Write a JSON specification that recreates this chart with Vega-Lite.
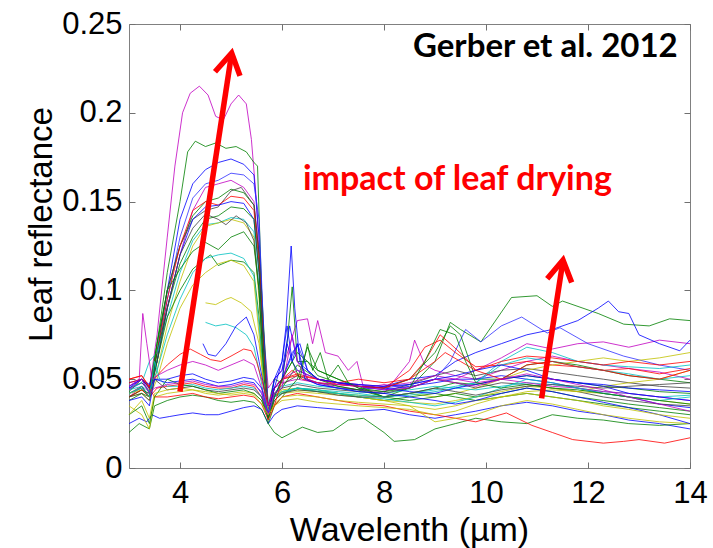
{
"$schema":"https://vega.github.io/schema/vega-lite/v6.json",
"width":561,"height":444,
"autosize":"none",
"padding":{"left":129,"top":24,"right":23,"bottom":80},
"background":"white",
"config":{"view":{"stroke":"#808080","strokeWidth":1},"axis":{"labelFont":"Liberation Sans","titleFont":"Liberation Sans","labelColor":"#000","titleColor":"#000","titleFontWeight":"normal","domain":false,"grid":false,"tickColor":"#707070","tickSize":-6,"tickWidth":1}},
"datasets":{
"spectra":[
{"s":"A","x":3,"y":0.046},{"s":"A","x":3.25,"y":0.05},{"s":"A","x":3.4,"y":0.045},{"s":"A","x":3.55,"y":0.075},{"s":"A","x":3.75,"y":0.13},{"s":"A","x":3.9,"y":0.17},{"s":"A","x":4.05,"y":0.2},{"s":"A","x":4.2,"y":0.211},{"s":"A","x":4.38,"y":0.215},{"s":"A","x":4.55,"y":0.21},{"s":"A","x":4.7,"y":0.198},{"s":"A","x":4.85,"y":0.196},{"s":"A","x":5,"y":0.205},{"s":"A","x":5.15,"y":0.21},{"s":"A","x":5.3,"y":0.205},{"s":"A","x":5.4,"y":0.185},{"s":"A","x":5.5,"y":0.15},{"s":"A","x":5.6,"y":0.09},{"s":"A","x":5.73,"y":0.045},{"s":"A","x":5.85,"y":0.05},{"s":"A","x":6,"y":0.055},{"s":"A","x":6.3,"y":0.083},{"s":"A","x":6.5,"y":0.084},{"s":"A","x":6.6,"y":0.07},{"s":"A","x":6.7,"y":0.083},{"s":"A","x":6.85,"y":0.065},{"s":"A","x":7.1,"y":0.063},{"s":"A","x":7.3,"y":0.055},{"s":"A","x":7.47,"y":0.06},{"s":"A","x":7.6,"y":0.045},{"s":"A","x":8,"y":0.047},{"s":"A","x":8.5,"y":0.045},{"s":"A","x":9,"y":0.05},{"s":"A","x":9.4,"y":0.05},{"s":"A","x":9.8,"y":0.055},{"s":"A","x":10.3,"y":0.062},{"s":"A","x":10.8,"y":0.07},{"s":"A","x":11.3,"y":0.067},{"s":"A","x":11.8,"y":0.07},{"s":"A","x":12.3,"y":0.071},{"s":"A","x":12.8,"y":0.068},{"s":"A","x":13.4,"y":0.072},{"s":"A","x":14,"y":0.07},
{"s":"B","x":3,"y":0.042},{"s":"B","x":3.25,"y":0.045},{"s":"B","x":3.4,"y":0.04},{"s":"B","x":3.55,"y":0.07},{"s":"B","x":3.75,"y":0.11},{"s":"B","x":4,"y":0.15},{"s":"B","x":4.15,"y":0.178},{"s":"B","x":4.3,"y":0.184},{"s":"B","x":4.5,"y":0.181},{"s":"B","x":4.7,"y":0.183},{"s":"B","x":4.9,"y":0.18},{"s":"B","x":5.1,"y":0.181},{"s":"B","x":5.3,"y":0.178},{"s":"B","x":5.45,"y":0.172},{"s":"B","x":5.52,"y":0.17},{"s":"B","x":5.6,"y":0.1},{"s":"B","x":5.73,"y":0.035},{"s":"B","x":5.85,"y":0.05},{"s":"B","x":6,"y":0.048},{"s":"B","x":6.1,"y":0.07},{"s":"B","x":6.2,"y":0.102},{"s":"B","x":6.3,"y":0.06},{"s":"B","x":6.5,"y":0.06},{"s":"B","x":6.7,"y":0.055},{"s":"B","x":7.1,"y":0.05},{"s":"B","x":7.5,"y":0.045},{"s":"B","x":8,"y":0.04},{"s":"B","x":8.5,"y":0.045},{"s":"B","x":9,"y":0.06},{"s":"B","x":9.3,"y":0.082},{"s":"B","x":9.5,"y":0.078},{"s":"B","x":9.9,"y":0.071},{"s":"B","x":10.5,"y":0.096},{"s":"B","x":11,"y":0.097},{"s":"B","x":11.3,"y":0.091},{"s":"B","x":11.5,"y":0.094},{"s":"B","x":12.2,"y":0.087},{"s":"B","x":12.7,"y":0.081},{"s":"B","x":13.2,"y":0.08},{"s":"B","x":13.6,"y":0.084},{"s":"B","x":14,"y":0.083},
{"s":"C","x":3,"y":0.048},{"s":"C","x":3.25,"y":0.05},{"s":"C","x":3.4,"y":0.042},{"s":"C","x":3.55,"y":0.065},{"s":"C","x":3.75,"y":0.1},{"s":"C","x":4,"y":0.14},{"s":"C","x":4.25,"y":0.16},{"s":"C","x":4.5,"y":0.168},{"s":"C","x":4.75,"y":0.172},{"s":"C","x":5,"y":0.174},{"s":"C","x":5.25,"y":0.171},{"s":"C","x":5.45,"y":0.165},{"s":"C","x":5.55,"y":0.13},{"s":"C","x":5.65,"y":0.07},{"s":"C","x":5.73,"y":0.03},{"s":"C","x":5.85,"y":0.05},{"s":"C","x":6,"y":0.06},{"s":"C","x":6.08,"y":0.08},{"s":"C","x":6.18,"y":0.125},{"s":"C","x":6.25,"y":0.09},{"s":"C","x":6.35,"y":0.06},{"s":"C","x":6.5,"y":0.05},{"s":"C","x":6.7,"y":0.047},{"s":"C","x":7.1,"y":0.045},{"s":"C","x":7.5,"y":0.044},{"s":"C","x":8,"y":0.046},{"s":"C","x":8.5,"y":0.05},{"s":"C","x":9,"y":0.052},{"s":"C","x":9.4,"y":0.06},{"s":"C","x":9.8,"y":0.065},{"s":"C","x":10.3,"y":0.07},{"s":"C","x":10.8,"y":0.075},{"s":"C","x":11.3,"y":0.078},{"s":"C","x":11.8,"y":0.083},{"s":"C","x":12.2,"y":0.09},{"s":"C","x":12.4,"y":0.094},{"s":"C","x":12.6,"y":0.088},{"s":"C","x":12.8,"y":0.087},{"s":"C","x":13,"y":0.075},{"s":"C","x":13.4,"y":0.07},{"s":"C","x":13.8,"y":0.066},{"s":"C","x":14,"y":0.072},
{"s":"D","x":3,"y":0.044},{"s":"D","x":3.25,"y":0.048},{"s":"D","x":3.4,"y":0.043},{"s":"D","x":3.55,"y":0.06},{"s":"D","x":3.75,"y":0.095},{"s":"D","x":4,"y":0.13},{"s":"D","x":4.25,"y":0.152},{"s":"D","x":4.5,"y":0.16},{"s":"D","x":4.75,"y":0.162},{"s":"D","x":5,"y":0.166},{"s":"D","x":5.25,"y":0.165},{"s":"D","x":5.45,"y":0.16},{"s":"D","x":5.55,"y":0.14},{"s":"D","x":5.65,"y":0.07},{"s":"D","x":5.73,"y":0.035},{"s":"D","x":5.85,"y":0.045},{"s":"D","x":6,"y":0.05},{"s":"D","x":6.3,"y":0.07},{"s":"D","x":6.5,"y":0.055},{"s":"D","x":6.7,"y":0.05},{"s":"D","x":7.1,"y":0.048},{"s":"D","x":7.5,"y":0.047},{"s":"D","x":8,"y":0.045},{"s":"D","x":8.5,"y":0.047},{"s":"D","x":9,"y":0.05},{"s":"D","x":9.3,"y":0.06},{"s":"D","x":9.6,"y":0.078},{"s":"D","x":9.9,"y":0.071},{"s":"D","x":10.3,"y":0.08},{"s":"D","x":10.7,"y":0.085},{"s":"D","x":11.2,"y":0.076},{"s":"D","x":11.45,"y":0.079},{"s":"D","x":12,"y":0.07},{"s":"D","x":12.7,"y":0.063},{"s":"D","x":13.4,"y":0.058},{"s":"D","x":14,"y":0.055},
{"s":"E","x":3,"y":0.04},{"s":"E","x":3.25,"y":0.046},{"s":"E","x":3.4,"y":0.04},{"s":"E","x":3.55,"y":0.06},{"s":"E","x":3.75,"y":0.09},{"s":"E","x":4,"y":0.12},{"s":"E","x":4.25,"y":0.145},{"s":"E","x":4.5,"y":0.158},{"s":"E","x":4.75,"y":0.16},{"s":"E","x":5,"y":0.162},{"s":"E","x":5.25,"y":0.158},{"s":"E","x":5.45,"y":0.15},{"s":"E","x":5.55,"y":0.12},{"s":"E","x":5.65,"y":0.06},{"s":"E","x":5.73,"y":0.032},{"s":"E","x":5.85,"y":0.045},{"s":"E","x":6,"y":0.048},{"s":"E","x":6.3,"y":0.05},{"s":"E","x":6.7,"y":0.048},{"s":"E","x":7.1,"y":0.045},{"s":"E","x":7.5,"y":0.044},{"s":"E","x":8,"y":0.042},{"s":"E","x":8.5,"y":0.06},{"s":"E","x":8.6,"y":0.072},{"s":"E","x":8.8,"y":0.058},{"s":"E","x":9,"y":0.055},{"s":"E","x":9.4,"y":0.052},{"s":"E","x":9.8,"y":0.05},{"s":"E","x":10.3,"y":0.055},{"s":"E","x":10.8,"y":0.06},{"s":"E","x":11.3,"y":0.063},{"s":"E","x":11.8,"y":0.06},{"s":"E","x":12.3,"y":0.058},{"s":"E","x":12.8,"y":0.056},{"s":"E","x":13.4,"y":0.054},{"s":"E","x":14,"y":0.05},
{"s":"F","x":3,"y":0.043},{"s":"F","x":3.25,"y":0.05},{"s":"F","x":3.4,"y":0.045},{"s":"F","x":3.55,"y":0.07},{"s":"F","x":3.75,"y":0.1},{"s":"F","x":4,"y":0.125},{"s":"F","x":4.25,"y":0.142},{"s":"F","x":4.5,"y":0.15},{"s":"F","x":4.75,"y":0.152},{"s":"F","x":5,"y":0.157},{"s":"F","x":5.25,"y":0.155},{"s":"F","x":5.45,"y":0.148},{"s":"F","x":5.55,"y":0.12},{"s":"F","x":5.65,"y":0.065},{"s":"F","x":5.73,"y":0.03},{"s":"F","x":5.85,"y":0.045},{"s":"F","x":6,"y":0.05},{"s":"F","x":6.3,"y":0.065},{"s":"F","x":6.5,"y":0.06},{"s":"F","x":6.7,"y":0.052},{"s":"F","x":7.1,"y":0.048},{"s":"F","x":7.5,"y":0.046},{"s":"F","x":8,"y":0.045},{"s":"F","x":8.5,"y":0.05},{"s":"F","x":9,"y":0.065},{"s":"F","x":9.3,"y":0.08},{"s":"F","x":9.5,"y":0.075},{"s":"F","x":9.8,"y":0.05},{"s":"F","x":10.3,"y":0.05},{"s":"F","x":10.8,"y":0.058},{"s":"F","x":11.3,"y":0.06},{"s":"F","x":11.8,"y":0.058},{"s":"F","x":12.3,"y":0.055},{"s":"F","x":12.8,"y":0.052},{"s":"F","x":13.4,"y":0.05},{"s":"F","x":14,"y":0.048},
{"s":"G","x":3,"y":0.045},{"s":"G","x":3.25,"y":0.048},{"s":"G","x":3.4,"y":0.044},{"s":"G","x":3.55,"y":0.065},{"s":"G","x":3.75,"y":0.1},{"s":"G","x":4,"y":0.125},{"s":"G","x":4.25,"y":0.14},{"s":"G","x":4.5,"y":0.145},{"s":"G","x":4.75,"y":0.147},{"s":"G","x":5,"y":0.156},{"s":"G","x":5.2,"y":0.158},{"s":"G","x":5.45,"y":0.148},{"s":"G","x":5.55,"y":0.12},{"s":"G","x":5.65,"y":0.06},{"s":"G","x":5.73,"y":0.03},{"s":"G","x":5.85,"y":0.042},{"s":"G","x":6,"y":0.047},{"s":"G","x":6.3,"y":0.052},{"s":"G","x":6.7,"y":0.048},{"s":"G","x":7.1,"y":0.046},{"s":"G","x":7.5,"y":0.044},{"s":"G","x":8,"y":0.043},{"s":"G","x":8.5,"y":0.047},{"s":"G","x":9,"y":0.052},{"s":"G","x":9.4,"y":0.055},{"s":"G","x":9.8,"y":0.052},{"s":"G","x":10.3,"y":0.055},{"s":"G","x":10.8,"y":0.056},{"s":"G","x":11.3,"y":0.054},{"s":"G","x":11.8,"y":0.052},{"s":"G","x":12.3,"y":0.05},{"s":"G","x":12.8,"y":0.048},{"s":"G","x":13.4,"y":0.046},{"s":"G","x":14,"y":0.045},
{"s":"H","x":3,"y":0.05},{"s":"H","x":3.25,"y":0.052},{"s":"H","x":3.4,"y":0.046},{"s":"H","x":3.55,"y":0.065},{"s":"H","x":3.75,"y":0.095},{"s":"H","x":4,"y":0.125},{"s":"H","x":4.25,"y":0.145},{"s":"H","x":4.5,"y":0.15},{"s":"H","x":4.75,"y":0.148},{"s":"H","x":5,"y":0.153},{"s":"H","x":5.25,"y":0.152},{"s":"H","x":5.45,"y":0.145},{"s":"H","x":5.55,"y":0.115},{"s":"H","x":5.65,"y":0.06},{"s":"H","x":5.73,"y":0.032},{"s":"H","x":5.85,"y":0.045},{"s":"H","x":6,"y":0.05},{"s":"H","x":6.3,"y":0.052},{"s":"H","x":6.7,"y":0.05},{"s":"H","x":7.1,"y":0.047},{"s":"H","x":7.5,"y":0.046},{"s":"H","x":8,"y":0.045},{"s":"H","x":8.5,"y":0.055},{"s":"H","x":8.8,"y":0.068},{"s":"H","x":9.1,"y":0.072},{"s":"H","x":9.4,"y":0.065},{"s":"H","x":9.8,"y":0.057},{"s":"H","x":10.3,"y":0.058},{"s":"H","x":10.8,"y":0.06},{"s":"H","x":11.3,"y":0.058},{"s":"H","x":11.8,"y":0.057},{"s":"H","x":12.3,"y":0.055},{"s":"H","x":12.8,"y":0.056},{"s":"H","x":13.4,"y":0.053},{"s":"H","x":14,"y":0.056},
{"s":"I","x":3,"y":0.046},{"s":"I","x":3.25,"y":0.05},{"s":"I","x":3.4,"y":0.047},{"s":"I","x":3.55,"y":0.06},{"s":"I","x":3.75,"y":0.09},{"s":"I","x":4,"y":0.12},{"s":"I","x":4.25,"y":0.14},{"s":"I","x":4.5,"y":0.147},{"s":"I","x":4.75,"y":0.148},{"s":"I","x":5,"y":0.15},{"s":"I","x":5.25,"y":0.149},{"s":"I","x":5.45,"y":0.14},{"s":"I","x":5.55,"y":0.11},{"s":"I","x":5.65,"y":0.055},{"s":"I","x":5.73,"y":0.03},{"s":"I","x":5.85,"y":0.05},{"s":"I","x":6,"y":0.055},{"s":"I","x":6.15,"y":0.08},{"s":"I","x":6.3,"y":0.06},{"s":"I","x":6.7,"y":0.05},{"s":"I","x":7.1,"y":0.048},{"s":"I","x":7.5,"y":0.046},{"s":"I","x":8,"y":0.044},{"s":"I","x":8.5,"y":0.046},{"s":"I","x":9,"y":0.048},{"s":"I","x":9.4,"y":0.05},{"s":"I","x":9.8,"y":0.05},{"s":"I","x":10.3,"y":0.052},{"s":"I","x":10.8,"y":0.05},{"s":"I","x":11.3,"y":0.048},{"s":"I","x":11.8,"y":0.045},{"s":"I","x":12.3,"y":0.042},{"s":"I","x":12.8,"y":0.04},{"s":"I","x":13.4,"y":0.036},{"s":"I","x":14,"y":0.034},
{"s":"J","x":3,"y":0.04},{"s":"J","x":3.25,"y":0.044},{"s":"J","x":3.4,"y":0.04},{"s":"J","x":3.55,"y":0.065},{"s":"J","x":3.75,"y":0.09},{"s":"J","x":4,"y":0.115},{"s":"J","x":4.25,"y":0.13},{"s":"J","x":4.5,"y":0.14},{"s":"J","x":4.75,"y":0.142},{"s":"J","x":5,"y":0.147},{"s":"J","x":5.25,"y":0.146},{"s":"J","x":5.45,"y":0.14},{"s":"J","x":5.55,"y":0.11},{"s":"J","x":5.65,"y":0.055},{"s":"J","x":5.73,"y":0.028},{"s":"J","x":5.85,"y":0.04},{"s":"J","x":6,"y":0.045},{"s":"J","x":6.3,"y":0.058},{"s":"J","x":6.7,"y":0.05},{"s":"J","x":7.1,"y":0.046},{"s":"J","x":7.5,"y":0.044},{"s":"J","x":8,"y":0.04},{"s":"J","x":8.5,"y":0.042},{"s":"J","x":9,"y":0.045},{"s":"J","x":9.4,"y":0.048},{"s":"J","x":9.8,"y":0.047},{"s":"J","x":10.3,"y":0.05},{"s":"J","x":10.8,"y":0.052},{"s":"J","x":11.3,"y":0.05},{"s":"J","x":11.8,"y":0.048},{"s":"J","x":12.3,"y":0.046},{"s":"J","x":12.8,"y":0.045},{"s":"J","x":13.4,"y":0.043},{"s":"J","x":14,"y":0.042},
{"s":"K","x":3,"y":0.045},{"s":"K","x":3.25,"y":0.048},{"s":"K","x":3.4,"y":0.06},{"s":"K","x":3.55,"y":0.065},{"s":"K","x":3.75,"y":0.085},{"s":"K","x":4,"y":0.11},{"s":"K","x":4.25,"y":0.128},{"s":"K","x":4.5,"y":0.137},{"s":"K","x":4.75,"y":0.138},{"s":"K","x":5,"y":0.141},{"s":"K","x":5.25,"y":0.14},{"s":"K","x":5.45,"y":0.133},{"s":"K","x":5.55,"y":0.1},{"s":"K","x":5.65,"y":0.05},{"s":"K","x":5.73,"y":0.03},{"s":"K","x":5.85,"y":0.042},{"s":"K","x":6,"y":0.046},{"s":"K","x":6.3,"y":0.048},{"s":"K","x":6.7,"y":0.046},{"s":"K","x":7.1,"y":0.045},{"s":"K","x":7.5,"y":0.043},{"s":"K","x":8,"y":0.042},{"s":"K","x":8.5,"y":0.044},{"s":"K","x":9,"y":0.046},{"s":"K","x":9.4,"y":0.045},{"s":"K","x":9.8,"y":0.048},{"s":"K","x":10.3,"y":0.06},{"s":"K","x":10.8,"y":0.068},{"s":"K","x":11.3,"y":0.065},{"s":"K","x":11.8,"y":0.06},{"s":"K","x":12.3,"y":0.058},{"s":"K","x":12.8,"y":0.057},{"s":"K","x":13.4,"y":0.056},{"s":"K","x":14,"y":0.058},
{"s":"L","x":3,"y":0.04},{"s":"L","x":3.25,"y":0.042},{"s":"L","x":3.4,"y":0.038},{"s":"L","x":3.55,"y":0.055},{"s":"L","x":3.75,"y":0.08},{"s":"L","x":4,"y":0.105},{"s":"L","x":4.25,"y":0.125},{"s":"L","x":4.5,"y":0.136},{"s":"L","x":4.75,"y":0.138},{"s":"L","x":5,"y":0.14},{"s":"L","x":5.25,"y":0.138},{"s":"L","x":5.45,"y":0.13},{"s":"L","x":5.55,"y":0.095},{"s":"L","x":5.65,"y":0.05},{"s":"L","x":5.73,"y":0.03},{"s":"L","x":5.85,"y":0.04},{"s":"L","x":6,"y":0.044},{"s":"L","x":6.3,"y":0.045},{"s":"L","x":6.7,"y":0.044},{"s":"L","x":7.1,"y":0.042},{"s":"L","x":7.5,"y":0.041},{"s":"L","x":8,"y":0.04},{"s":"L","x":8.5,"y":0.042},{"s":"L","x":9,"y":0.04},{"s":"L","x":9.4,"y":0.042},{"s":"L","x":9.8,"y":0.045},{"s":"L","x":10.3,"y":0.05},{"s":"L","x":10.8,"y":0.055},{"s":"L","x":11.3,"y":0.058},{"s":"L","x":11.8,"y":0.06},{"s":"L","x":12.3,"y":0.062},{"s":"L","x":12.8,"y":0.06},{"s":"L","x":13.4,"y":0.062},{"s":"L","x":14,"y":0.065},
{"s":"M","x":3,"y":0.042},{"s":"M","x":3.25,"y":0.046},{"s":"M","x":3.4,"y":0.04},{"s":"M","x":3.55,"y":0.06},{"s":"M","x":3.75,"y":0.09},{"s":"M","x":4,"y":0.12},{"s":"M","x":4.25,"y":0.135},{"s":"M","x":4.5,"y":0.143},{"s":"M","x":4.75,"y":0.14},{"s":"M","x":4.9,"y":0.137},{"s":"M","x":5.1,"y":0.142},{"s":"M","x":5.3,"y":0.138},{"s":"M","x":5.45,"y":0.128},{"s":"M","x":5.55,"y":0.1},{"s":"M","x":5.65,"y":0.05},{"s":"M","x":5.73,"y":0.03},{"s":"M","x":5.85,"y":0.042},{"s":"M","x":6,"y":0.045},{"s":"M","x":6.3,"y":0.047},{"s":"M","x":6.7,"y":0.045},{"s":"M","x":7.1,"y":0.044},{"s":"M","x":7.5,"y":0.043},{"s":"M","x":8,"y":0.042},{"s":"M","x":8.5,"y":0.045},{"s":"M","x":9,"y":0.05},{"s":"M","x":9.4,"y":0.048},{"s":"M","x":9.8,"y":0.045},{"s":"M","x":10.3,"y":0.048},{"s":"M","x":10.8,"y":0.047},{"s":"M","x":11.3,"y":0.045},{"s":"M","x":11.8,"y":0.043},{"s":"M","x":12.3,"y":0.04},{"s":"M","x":12.8,"y":0.038},{"s":"M","x":13.4,"y":0.036},{"s":"M","x":14,"y":0.035},
{"s":"N","x":3,"y":0.038},{"s":"N","x":3.25,"y":0.042},{"s":"N","x":3.4,"y":0.04},{"s":"N","x":3.55,"y":0.07},{"s":"N","x":3.75,"y":0.1},{"s":"N","x":4,"y":0.112},{"s":"N","x":4.25,"y":0.122},{"s":"N","x":4.5,"y":0.127},{"s":"N","x":4.75,"y":0.123},{"s":"N","x":5,"y":0.13},{"s":"N","x":5.25,"y":0.133},{"s":"N","x":5.45,"y":0.125},{"s":"N","x":5.55,"y":0.1},{"s":"N","x":5.65,"y":0.05},{"s":"N","x":5.73,"y":0.025},{"s":"N","x":5.85,"y":0.035},{"s":"N","x":6,"y":0.04},{"s":"N","x":6.3,"y":0.05},{"s":"N","x":6.5,"y":0.068},{"s":"N","x":6.7,"y":0.055},{"s":"N","x":7.1,"y":0.05},{"s":"N","x":7.5,"y":0.046},{"s":"N","x":8,"y":0.04},{"s":"N","x":8.5,"y":0.038},{"s":"N","x":9,"y":0.04},{"s":"N","x":9.4,"y":0.042},{"s":"N","x":9.8,"y":0.04},{"s":"N","x":10.3,"y":0.042},{"s":"N","x":10.8,"y":0.045},{"s":"N","x":11.3,"y":0.043},{"s":"N","x":11.8,"y":0.04},{"s":"N","x":12.3,"y":0.038},{"s":"N","x":12.8,"y":0.036},{"s":"N","x":13.4,"y":0.034},{"s":"N","x":14,"y":0.032},
{"s":"O","x":3,"y":0.04},{"s":"O","x":3.25,"y":0.044},{"s":"O","x":3.4,"y":0.042},{"s":"O","x":3.55,"y":0.06},{"s":"O","x":3.75,"y":0.085},{"s":"O","x":4,"y":0.1},{"s":"O","x":4.25,"y":0.112},{"s":"O","x":4.5,"y":0.118},{"s":"O","x":4.6,"y":0.12},{"s":"O","x":4.75,"y":0.114},{"s":"O","x":5,"y":0.117},{"s":"O","x":5.25,"y":0.116},{"s":"O","x":5.45,"y":0.11},{"s":"O","x":5.55,"y":0.085},{"s":"O","x":5.65,"y":0.045},{"s":"O","x":5.73,"y":0.028},{"s":"O","x":5.85,"y":0.038},{"s":"O","x":6,"y":0.042},{"s":"O","x":6.3,"y":0.045},{"s":"O","x":6.7,"y":0.043},{"s":"O","x":7.1,"y":0.042},{"s":"O","x":7.5,"y":0.04},{"s":"O","x":8,"y":0.038},{"s":"O","x":8.5,"y":0.04},{"s":"O","x":9,"y":0.042},{"s":"O","x":9.4,"y":0.04},{"s":"O","x":9.8,"y":0.038},{"s":"O","x":10.3,"y":0.04},{"s":"O","x":10.8,"y":0.042},{"s":"O","x":11.3,"y":0.04},{"s":"O","x":11.8,"y":0.038},{"s":"O","x":12.3,"y":0.036},{"s":"O","x":12.8,"y":0.034},{"s":"O","x":13.4,"y":0.032},{"s":"O","x":14,"y":0.03},
{"s":"P","x":3,"y":0.044},{"s":"P","x":3.25,"y":0.046},{"s":"P","x":3.4,"y":0.043},{"s":"P","x":3.55,"y":0.055},{"s":"P","x":3.75,"y":0.075},{"s":"P","x":4,"y":0.095},{"s":"P","x":4.25,"y":0.11},{"s":"P","x":4.5,"y":0.118},{"s":"P","x":4.75,"y":0.12},{"s":"P","x":5,"y":0.121},{"s":"P","x":5.25,"y":0.118},{"s":"P","x":5.45,"y":0.108},{"s":"P","x":5.55,"y":0.08},{"s":"P","x":5.65,"y":0.045},{"s":"P","x":5.73,"y":0.03},{"s":"P","x":5.85,"y":0.04},{"s":"P","x":6,"y":0.043},{"s":"P","x":6.3,"y":0.045},{"s":"P","x":6.7,"y":0.044},{"s":"P","x":7.1,"y":0.043},{"s":"P","x":7.5,"y":0.042},{"s":"P","x":8,"y":0.04},{"s":"P","x":8.5,"y":0.041},{"s":"P","x":9,"y":0.043},{"s":"P","x":9.4,"y":0.045},{"s":"P","x":9.8,"y":0.044},{"s":"P","x":10.3,"y":0.046},{"s":"P","x":10.8,"y":0.048},{"s":"P","x":11.3,"y":0.047},{"s":"P","x":11.8,"y":0.045},{"s":"P","x":12.3,"y":0.043},{"s":"P","x":12.8,"y":0.042},{"s":"P","x":13.4,"y":0.04},{"s":"P","x":14,"y":0.041},
{"s":"Q","x":3,"y":0.042},{"s":"Q","x":3.25,"y":0.044},{"s":"Q","x":3.4,"y":0.04},{"s":"Q","x":3.55,"y":0.05},{"s":"Q","x":3.75,"y":0.07},{"s":"Q","x":4,"y":0.09},{"s":"Q","x":4.25,"y":0.103},{"s":"Q","x":4.5,"y":0.11},{"s":"Q","x":4.75,"y":0.115},{"s":"Q","x":5,"y":0.117},{"s":"Q","x":5.25,"y":0.114},{"s":"Q","x":5.45,"y":0.105},{"s":"Q","x":5.55,"y":0.075},{"s":"Q","x":5.65,"y":0.045},{"s":"Q","x":5.73,"y":0.032},{"s":"Q","x":5.85,"y":0.04},{"s":"Q","x":6,"y":0.042},{"s":"Q","x":6.3,"y":0.043},{"s":"Q","x":6.7,"y":0.042},{"s":"Q","x":7.1,"y":0.041},{"s":"Q","x":7.5,"y":0.04},{"s":"Q","x":8,"y":0.038},{"s":"Q","x":8.5,"y":0.037},{"s":"Q","x":9,"y":0.036},{"s":"Q","x":9.4,"y":0.038},{"s":"Q","x":9.8,"y":0.04},{"s":"Q","x":10.3,"y":0.043},{"s":"Q","x":10.8,"y":0.046},{"s":"Q","x":11.3,"y":0.045},{"s":"Q","x":11.8,"y":0.043},{"s":"Q","x":12.3,"y":0.042},{"s":"Q","x":12.8,"y":0.04},{"s":"Q","x":13.4,"y":0.038},{"s":"Q","x":14,"y":0.036},
{"s":"R","x":4.5,"y":0.093},{"s":"R","x":4.7,"y":0.092},{"s":"R","x":4.9,"y":0.095},{"s":"R","x":5,"y":0.096},{"s":"R","x":5.2,"y":0.093},{"s":"R","x":5.4,"y":0.088},{"s":"R","x":5.55,"y":0.07},{"s":"R","x":5.65,"y":0.045},{"s":"R","x":5.73,"y":0.035},{"s":"R","x":5.85,"y":0.04},{"s":"R","x":6,"y":0.043},{"s":"R","x":6.3,"y":0.044},{"s":"R","x":6.7,"y":0.043},{"s":"R","x":7.1,"y":0.042},{"s":"R","x":7.5,"y":0.04},{"s":"R","x":8,"y":0.038},{"s":"R","x":8.5,"y":0.035},{"s":"R","x":9,"y":0.033},{"s":"R","x":9.4,"y":0.035},{"s":"R","x":9.8,"y":0.038},{"s":"R","x":10.3,"y":0.04},{"s":"R","x":10.8,"y":0.043},{"s":"R","x":11.3,"y":0.044},{"s":"R","x":11.8,"y":0.043},{"s":"R","x":12.3,"y":0.046},{"s":"R","x":12.8,"y":0.048},{"s":"R","x":13.4,"y":0.05},{"s":"R","x":14,"y":0.055},
{"s":"S","x":4.5,"y":0.082},{"s":"S","x":4.7,"y":0.08},{"s":"S","x":4.9,"y":0.081},{"s":"S","x":5.1,"y":0.079},{"s":"S","x":5.3,"y":0.075},{"s":"S","x":5.45,"y":0.068},{"s":"S","x":5.55,"y":0.055},{"s":"S","x":5.65,"y":0.04},{"s":"S","x":5.73,"y":0.032},{"s":"S","x":5.85,"y":0.04},{"s":"S","x":6,"y":0.042},{"s":"S","x":6.3,"y":0.045},{"s":"S","x":6.7,"y":0.043},{"s":"S","x":7.1,"y":0.042},{"s":"S","x":7.5,"y":0.041},{"s":"S","x":8,"y":0.04},{"s":"S","x":8.5,"y":0.042},{"s":"S","x":9,"y":0.044},{"s":"S","x":9.4,"y":0.046},{"s":"S","x":9.8,"y":0.048},{"s":"S","x":10.3,"y":0.058},{"s":"S","x":10.8,"y":0.062},{"s":"S","x":11.3,"y":0.06},{"s":"S","x":11.8,"y":0.057},{"s":"S","x":12.3,"y":0.055},{"s":"S","x":12.8,"y":0.053},{"s":"S","x":13.4,"y":0.05},{"s":"S","x":14,"y":0.052},
{"s":"T","x":4.45,"y":0.07},{"s":"T","x":4.55,"y":0.064},{"s":"T","x":4.7,"y":0.063},{"s":"T","x":4.9,"y":0.07},{"s":"T","x":5.1,"y":0.08},{"s":"T","x":5.3,"y":0.085},{"s":"T","x":5.45,"y":0.075},{"s":"T","x":5.55,"y":0.06},{"s":"T","x":5.65,"y":0.045},{"s":"T","x":5.73,"y":0.035},{"s":"T","x":5.85,"y":0.045},{"s":"T","x":6,"y":0.05},{"s":"T","x":6.1,"y":0.07},{"s":"T","x":6.2,"y":0.06},{"s":"T","x":6.3,"y":0.055},{"s":"T","x":6.7,"y":0.05},{"s":"T","x":7.1,"y":0.048},{"s":"T","x":7.5,"y":0.046},{"s":"T","x":8,"y":0.045},{"s":"T","x":8.5,"y":0.043},{"s":"T","x":9,"y":0.042},{"s":"T","x":9.4,"y":0.045},{"s":"T","x":9.8,"y":0.047},{"s":"T","x":10.3,"y":0.05},{"s":"T","x":10.8,"y":0.052},{"s":"T","x":11.3,"y":0.05},{"s":"T","x":11.8,"y":0.048},{"s":"T","x":12.3,"y":0.047},{"s":"T","x":12.8,"y":0.045},{"s":"T","x":13.4,"y":0.044},{"s":"T","x":14,"y":0.043},
{"s":"U","x":3,"y":0.048},{"s":"U","x":3.25,"y":0.05},{"s":"U","x":3.4,"y":0.046},{"s":"U","x":3.55,"y":0.052},{"s":"U","x":3.75,"y":0.058},{"s":"U","x":4,"y":0.064},{"s":"U","x":4.2,"y":0.067},{"s":"U","x":4.4,"y":0.064},{"s":"U","x":4.6,"y":0.061},{"s":"U","x":4.8,"y":0.06},{"s":"U","x":5,"y":0.063},{"s":"U","x":5.25,"y":0.067},{"s":"U","x":5.4,"y":0.066},{"s":"U","x":5.5,"y":0.06},{"s":"U","x":5.6,"y":0.05},{"s":"U","x":5.73,"y":0.035},{"s":"U","x":5.85,"y":0.045},{"s":"U","x":6,"y":0.05},{"s":"U","x":6.3,"y":0.053},{"s":"U","x":6.7,"y":0.05},{"s":"U","x":7.1,"y":0.048},{"s":"U","x":7.5,"y":0.05},{"s":"U","x":8,"y":0.048},{"s":"U","x":8.5,"y":0.05},{"s":"U","x":8.8,"y":0.06},{"s":"U","x":9.1,"y":0.075},{"s":"U","x":9.3,"y":0.07},{"s":"U","x":9.6,"y":0.062},{"s":"U","x":9.8,"y":0.055},{"s":"U","x":10.3,"y":0.06},{"s":"U","x":10.8,"y":0.063},{"s":"U","x":11.3,"y":0.062},{"s":"U","x":11.8,"y":0.06},{"s":"U","x":12.3,"y":0.058},{"s":"U","x":12.8,"y":0.06},{"s":"U","x":13.4,"y":0.058},{"s":"U","x":14,"y":0.06},
{"s":"V","x":3,"y":0.046},{"s":"V","x":3.2,"y":0.05},{"s":"V","x":3.27,"y":0.087},{"s":"V","x":3.35,"y":0.07},{"s":"V","x":3.45,"y":0.05},{"s":"V","x":3.55,"y":0.052},{"s":"V","x":3.75,"y":0.055},{"s":"V","x":4,"y":0.058},{"s":"V","x":4.25,"y":0.06},{"s":"V","x":4.5,"y":0.058},{"s":"V","x":4.75,"y":0.055},{"s":"V","x":5,"y":0.058},{"s":"V","x":5.25,"y":0.061},{"s":"V","x":5.45,"y":0.058},{"s":"V","x":5.6,"y":0.045},{"s":"V","x":5.73,"y":0.035},{"s":"V","x":5.85,"y":0.045},{"s":"V","x":6,"y":0.05},{"s":"V","x":6.3,"y":0.055},{"s":"V","x":6.7,"y":0.05},{"s":"V","x":7.1,"y":0.048},{"s":"V","x":7.5,"y":0.047},{"s":"V","x":8,"y":0.046},{"s":"V","x":8.5,"y":0.048},{"s":"V","x":9,"y":0.052},{"s":"V","x":9.4,"y":0.05},{"s":"V","x":9.8,"y":0.048},{"s":"V","x":10.3,"y":0.05},{"s":"V","x":10.8,"y":0.048},{"s":"V","x":11.3,"y":0.046},{"s":"V","x":11.8,"y":0.045},{"s":"V","x":12.3,"y":0.043},{"s":"V","x":12.8,"y":0.042},{"s":"V","x":13.4,"y":0.04},{"s":"V","x":14,"y":0.038},
{"s":"W","x":3,"y":0.045},{"s":"W","x":3.25,"y":0.05},{"s":"W","x":3.4,"y":0.045},{"s":"W","x":3.5,"y":0.05},{"s":"W","x":3.75,"y":0.05},{"s":"W","x":4,"y":0.052},{"s":"W","x":4.25,"y":0.053},{"s":"W","x":4.5,"y":0.05},{"s":"W","x":4.75,"y":0.048},{"s":"W","x":5,"y":0.049},{"s":"W","x":5.25,"y":0.051},{"s":"W","x":5.45,"y":0.05},{"s":"W","x":5.6,"y":0.045},{"s":"W","x":5.73,"y":0.03},{"s":"W","x":5.85,"y":0.04},{"s":"W","x":6,"y":0.05},{"s":"W","x":6.2,"y":0.065},{"s":"W","x":6.35,"y":0.07},{"s":"W","x":6.5,"y":0.055},{"s":"W","x":6.7,"y":0.05},{"s":"W","x":7.1,"y":0.048},{"s":"W","x":7.5,"y":0.047},{"s":"W","x":8,"y":0.046},{"s":"W","x":8.5,"y":0.047},{"s":"W","x":9,"y":0.05},{"s":"W","x":9.4,"y":0.052},{"s":"W","x":9.8,"y":0.055},{"s":"W","x":10.3,"y":0.058},{"s":"W","x":10.8,"y":0.055},{"s":"W","x":11.3,"y":0.05},{"s":"W","x":11.8,"y":0.048},{"s":"W","x":12.3,"y":0.046},{"s":"W","x":12.8,"y":0.042},{"s":"W","x":13.4,"y":0.04},{"s":"W","x":14,"y":0.038},
{"s":"X","x":3,"y":0.025},{"s":"X","x":3.2,"y":0.028},{"s":"X","x":3.35,"y":0.026},{"s":"X","x":3.45,"y":0.03},{"s":"X","x":3.6,"y":0.028},{"s":"X","x":3.8,"y":0.029},{"s":"X","x":4,"y":0.03},{"s":"X","x":4.25,"y":0.031},{"s":"X","x":4.5,"y":0.03},{"s":"X","x":4.75,"y":0.03},{"s":"X","x":5,"y":0.032},{"s":"X","x":5.25,"y":0.034},{"s":"X","x":5.45,"y":0.035},{"s":"X","x":5.6,"y":0.033},{"s":"X","x":5.73,"y":0.025},{"s":"X","x":5.85,"y":0.03},{"s":"X","x":6,"y":0.033},{"s":"X","x":6.3,"y":0.035},{"s":"X","x":6.7,"y":0.034},{"s":"X","x":7.1,"y":0.033},{"s":"X","x":7.5,"y":0.032},{"s":"X","x":8,"y":0.033},{"s":"X","x":8.5,"y":0.03},{"s":"X","x":9,"y":0.028},{"s":"X","x":9.4,"y":0.03},{"s":"X","x":9.8,"y":0.032},{"s":"X","x":10.3,"y":0.035},{"s":"X","x":10.8,"y":0.037},{"s":"X","x":11.3,"y":0.035},{"s":"X","x":11.8,"y":0.032},{"s":"X","x":12.3,"y":0.03},{"s":"X","x":12.8,"y":0.027},{"s":"X","x":13.4,"y":0.025},{"s":"X","x":14,"y":0.022},
{"s":"Y","x":3,"y":0.02},{"s":"Y","x":3.2,"y":0.025},{"s":"Y","x":3.4,"y":0.022},{"s":"Y","x":3.5,"y":0.035},{"s":"Y","x":3.75,"y":0.038},{"s":"Y","x":4,"y":0.04},{"s":"Y","x":4.25,"y":0.041},{"s":"Y","x":4.5,"y":0.04},{"s":"Y","x":4.75,"y":0.038},{"s":"Y","x":5,"y":0.037},{"s":"Y","x":5.25,"y":0.038},{"s":"Y","x":5.45,"y":0.037},{"s":"Y","x":5.6,"y":0.033},{"s":"Y","x":5.73,"y":0.025},{"s":"Y","x":5.85,"y":0.02},{"s":"Y","x":6,"y":0.017},{"s":"Y","x":6.2,"y":0.02},{"s":"Y","x":6.4,"y":0.023},{"s":"Y","x":6.7,"y":0.02},{"s":"Y","x":7,"y":0.021},{"s":"Y","x":7.3,"y":0.027},{"s":"Y","x":7.6,"y":0.028},{"s":"Y","x":8,"y":0.02},{"s":"Y","x":8.2,"y":0.015},{"s":"Y","x":8.6,"y":0.016},{"s":"Y","x":9,"y":0.022},{"s":"Y","x":9.4,"y":0.025},{"s":"Y","x":9.8,"y":0.028},{"s":"Y","x":10.3,"y":0.026},{"s":"Y","x":10.8,"y":0.025},{"s":"Y","x":11.3,"y":0.03},{"s":"Y","x":11.8,"y":0.028},{"s":"Y","x":12.3,"y":0.027},{"s":"Y","x":12.8,"y":0.025},{"s":"Y","x":13.4,"y":0.024},{"s":"Y","x":14,"y":0.025},
{"s":"Z","x":3,"y":0.04},{"s":"Z","x":3.25,"y":0.044},{"s":"Z","x":3.4,"y":0.04},{"s":"Z","x":3.55,"y":0.045},{"s":"Z","x":3.75,"y":0.046},{"s":"Z","x":4,"y":0.047},{"s":"Z","x":4.25,"y":0.048},{"s":"Z","x":4.5,"y":0.046},{"s":"Z","x":4.75,"y":0.045},{"s":"Z","x":5,"y":0.045},{"s":"Z","x":5.25,"y":0.047},{"s":"Z","x":5.45,"y":0.046},{"s":"Z","x":5.6,"y":0.04},{"s":"Z","x":5.73,"y":0.03},{"s":"Z","x":5.85,"y":0.035},{"s":"Z","x":6,"y":0.04},{"s":"Z","x":6.3,"y":0.042},{"s":"Z","x":6.7,"y":0.04},{"s":"Z","x":7.1,"y":0.038},{"s":"Z","x":7.5,"y":0.036},{"s":"Z","x":8,"y":0.035},{"s":"Z","x":8.5,"y":0.032},{"s":"Z","x":9,"y":0.03},{"s":"Z","x":9.4,"y":0.028},{"s":"Z","x":9.8,"y":0.026},{"s":"Z","x":10.4,"y":0.031},{"s":"Z","x":10.9,"y":0.024},{"s":"Z","x":11.3,"y":0.02},{"s":"Z","x":11.7,"y":0.016},{"s":"Z","x":12.3,"y":0.014},{"s":"Z","x":12.7,"y":0.015},{"s":"Z","x":13,"y":0.016},{"s":"Z","x":13.5,"y":0.014},{"s":"Z","x":14,"y":0.017},
{"s":"AA","x":3,"y":0.035},{"s":"AA","x":3.25,"y":0.03},{"s":"AA","x":3.4,"y":0.022},{"s":"AA","x":3.5,"y":0.04},{"s":"AA","x":3.75,"y":0.042},{"s":"AA","x":4,"y":0.043},{"s":"AA","x":4.25,"y":0.044},{"s":"AA","x":4.5,"y":0.042},{"s":"AA","x":4.75,"y":0.041},{"s":"AA","x":5,"y":0.042},{"s":"AA","x":5.25,"y":0.043},{"s":"AA","x":5.45,"y":0.042},{"s":"AA","x":5.6,"y":0.038},{"s":"AA","x":5.73,"y":0.03},{"s":"AA","x":5.85,"y":0.036},{"s":"AA","x":6,"y":0.04},{"s":"AA","x":6.3,"y":0.041},{"s":"AA","x":6.7,"y":0.04},{"s":"AA","x":7.1,"y":0.038},{"s":"AA","x":7.5,"y":0.037},{"s":"AA","x":8,"y":0.036},{"s":"AA","x":8.5,"y":0.035},{"s":"AA","x":9,"y":0.026},{"s":"AA","x":9.4,"y":0.028},{"s":"AA","x":9.8,"y":0.03},{"s":"AA","x":10.3,"y":0.035},{"s":"AA","x":10.8,"y":0.038},{"s":"AA","x":11.3,"y":0.036},{"s":"AA","x":11.8,"y":0.033},{"s":"AA","x":12.3,"y":0.03},{"s":"AA","x":12.8,"y":0.028},{"s":"AA","x":13.4,"y":0.026},{"s":"AA","x":14,"y":0.025},
{"s":"AB","x":3,"y":0.042},{"s":"AB","x":3.25,"y":0.045},{"s":"AB","x":3.4,"y":0.04},{"s":"AB","x":3.5,"y":0.06},{"s":"AB","x":3.6,"y":0.05},{"s":"AB","x":3.75,"y":0.046},{"s":"AB","x":4,"y":0.046},{"s":"AB","x":4.25,"y":0.047},{"s":"AB","x":4.5,"y":0.045},{"s":"AB","x":4.75,"y":0.044},{"s":"AB","x":5,"y":0.045},{"s":"AB","x":5.25,"y":0.046},{"s":"AB","x":5.45,"y":0.045},{"s":"AB","x":5.6,"y":0.04},{"s":"AB","x":5.73,"y":0.03},{"s":"AB","x":5.85,"y":0.04},{"s":"AB","x":6,"y":0.043},{"s":"AB","x":6.3,"y":0.045},{"s":"AB","x":6.7,"y":0.044},{"s":"AB","x":7.1,"y":0.042},{"s":"AB","x":7.5,"y":0.04},{"s":"AB","x":8,"y":0.039},{"s":"AB","x":8.5,"y":0.037},{"s":"AB","x":9,"y":0.035},{"s":"AB","x":9.4,"y":0.037},{"s":"AB","x":9.8,"y":0.04},{"s":"AB","x":10.3,"y":0.045},{"s":"AB","x":10.8,"y":0.05},{"s":"AB","x":11.3,"y":0.048},{"s":"AB","x":11.8,"y":0.045},{"s":"AB","x":12.3,"y":0.042},{"s":"AB","x":12.8,"y":0.04},{"s":"AB","x":13.4,"y":0.038},{"s":"AB","x":14,"y":0.04},
{"s":"AC","x":3,"y":0.04},{"s":"AC","x":3.25,"y":0.042},{"s":"AC","x":3.4,"y":0.038},{"s":"AC","x":3.5,"y":0.05},{"s":"AC","x":3.75,"y":0.044},{"s":"AC","x":4,"y":0.045},{"s":"AC","x":4.25,"y":0.046},{"s":"AC","x":4.5,"y":0.044},{"s":"AC","x":4.75,"y":0.043},{"s":"AC","x":5,"y":0.044},{"s":"AC","x":5.25,"y":0.045},{"s":"AC","x":5.45,"y":0.044},{"s":"AC","x":5.6,"y":0.04},{"s":"AC","x":5.73,"y":0.028},{"s":"AC","x":5.85,"y":0.038},{"s":"AC","x":6,"y":0.042},{"s":"AC","x":6.3,"y":0.044},{"s":"AC","x":6.7,"y":0.043},{"s":"AC","x":7.1,"y":0.041},{"s":"AC","x":7.5,"y":0.04},{"s":"AC","x":8,"y":0.04},{"s":"AC","x":8.5,"y":0.042},{"s":"AC","x":9,"y":0.045},{"s":"AC","x":9.4,"y":0.043},{"s":"AC","x":9.8,"y":0.041},{"s":"AC","x":10.3,"y":0.044},{"s":"AC","x":10.8,"y":0.046},{"s":"AC","x":11.3,"y":0.047},{"s":"AC","x":11.8,"y":0.046},{"s":"AC","x":12.3,"y":0.045},{"s":"AC","x":12.8,"y":0.046},{"s":"AC","x":13.4,"y":0.047},{"s":"AC","x":14,"y":0.048},
{"s":"AD","x":3,"y":0.05},{"s":"AD","x":3.25,"y":0.052},{"s":"AD","x":3.4,"y":0.045},{"s":"AD","x":3.5,"y":0.04},{"s":"AD","x":3.75,"y":0.04},{"s":"AD","x":4,"y":0.041},{"s":"AD","x":4.25,"y":0.042},{"s":"AD","x":4.5,"y":0.04},{"s":"AD","x":4.75,"y":0.039},{"s":"AD","x":5,"y":0.04},{"s":"AD","x":5.25,"y":0.041},{"s":"AD","x":5.45,"y":0.04},{"s":"AD","x":5.6,"y":0.036},{"s":"AD","x":5.73,"y":0.027},{"s":"AD","x":5.85,"y":0.035},{"s":"AD","x":6,"y":0.05},{"s":"AD","x":6.2,"y":0.055},{"s":"AD","x":6.4,"y":0.05},{"s":"AD","x":6.7,"y":0.048},{"s":"AD","x":7.1,"y":0.047},{"s":"AD","x":7.5,"y":0.046},{"s":"AD","x":8,"y":0.045},{"s":"AD","x":8.5,"y":0.05},{"s":"AD","x":9,"y":0.06},{"s":"AD","x":9.2,"y":0.065},{"s":"AD","x":9.5,"y":0.06},{"s":"AD","x":9.8,"y":0.055},{"s":"AD","x":10.3,"y":0.05},{"s":"AD","x":10.8,"y":0.058},{"s":"AD","x":11.3,"y":0.06},{"s":"AD","x":11.8,"y":0.057},{"s":"AD","x":12.3,"y":0.055},{"s":"AD","x":12.8,"y":0.052},{"s":"AD","x":13.4,"y":0.05},{"s":"AD","x":14,"y":0.055},
{"s":"AE","x":3,"y":0.03},{"s":"AE","x":3.25,"y":0.035},{"s":"AE","x":3.4,"y":0.025},{"s":"AE","x":3.5,"y":0.04},{"s":"AE","x":3.75,"y":0.05},{"s":"AE","x":4,"y":0.047},{"s":"AE","x":4.25,"y":0.046},{"s":"AE","x":4.5,"y":0.044},{"s":"AE","x":4.75,"y":0.042},{"s":"AE","x":5,"y":0.043},{"s":"AE","x":5.25,"y":0.044},{"s":"AE","x":5.45,"y":0.042},{"s":"AE","x":5.6,"y":0.038},{"s":"AE","x":5.73,"y":0.028},{"s":"AE","x":5.85,"y":0.04},{"s":"AE","x":6,"y":0.05},{"s":"AE","x":6.2,"y":0.06},{"s":"AE","x":6.35,"y":0.05},{"s":"AE","x":6.5,"y":0.07},{"s":"AE","x":6.6,"y":0.055},{"s":"AE","x":6.75,"y":0.065},{"s":"AE","x":6.9,"y":0.05},{"s":"AE","x":7.1,"y":0.058},{"s":"AE","x":7.3,"y":0.048},{"s":"AE","x":7.5,"y":0.045},{"s":"AE","x":8,"y":0.043},{"s":"AE","x":8.5,"y":0.045},{"s":"AE","x":8.8,"y":0.06},{"s":"AE","x":9.1,"y":0.078},{"s":"AE","x":9.4,"y":0.075},{"s":"AE","x":9.6,"y":0.06},{"s":"AE","x":9.8,"y":0.048},{"s":"AE","x":10.3,"y":0.045},{"s":"AE","x":10.8,"y":0.047},{"s":"AE","x":11.3,"y":0.045},{"s":"AE","x":11.8,"y":0.044},{"s":"AE","x":12.3,"y":0.042},{"s":"AE","x":12.8,"y":0.04},{"s":"AE","x":13.4,"y":0.038},{"s":"AE","x":14,"y":0.036},
{"s":"AF","x":3,"y":0.038},{"s":"AF","x":3.25,"y":0.04},{"s":"AF","x":3.4,"y":0.035},{"s":"AF","x":3.5,"y":0.05},{"s":"AF","x":3.75,"y":0.048},{"s":"AF","x":4,"y":0.049},{"s":"AF","x":4.25,"y":0.05},{"s":"AF","x":4.5,"y":0.048},{"s":"AF","x":4.75,"y":0.046},{"s":"AF","x":5,"y":0.047},{"s":"AF","x":5.25,"y":0.049},{"s":"AF","x":5.45,"y":0.048},{"s":"AF","x":5.6,"y":0.042},{"s":"AF","x":5.73,"y":0.03},{"s":"AF","x":5.85,"y":0.045},{"s":"AF","x":6,"y":0.06},{"s":"AF","x":6.1,"y":0.08},{"s":"AF","x":6.2,"y":0.06},{"s":"AF","x":6.3,"y":0.07},{"s":"AF","x":6.45,"y":0.05},{"s":"AF","x":6.7,"y":0.047},{"s":"AF","x":7.1,"y":0.045},{"s":"AF","x":7.5,"y":0.043},{"s":"AF","x":8,"y":0.042},{"s":"AF","x":8.5,"y":0.04},{"s":"AF","x":9,"y":0.038},{"s":"AF","x":9.4,"y":0.036},{"s":"AF","x":9.8,"y":0.038},{"s":"AF","x":10.3,"y":0.042},{"s":"AF","x":10.8,"y":0.045},{"s":"AF","x":11.3,"y":0.043},{"s":"AF","x":11.8,"y":0.04},{"s":"AF","x":12.3,"y":0.037},{"s":"AF","x":12.8,"y":0.034},{"s":"AF","x":13.4,"y":0.03},{"s":"AF","x":14,"y":0.025},
{"s":"AG","x":3,"y":0.044},{"s":"AG","x":3.25,"y":0.05},{"s":"AG","x":3.4,"y":0.042},{"s":"AG","x":3.5,"y":0.045},{"s":"AG","x":3.75,"y":0.047},{"s":"AG","x":4,"y":0.048},{"s":"AG","x":4.25,"y":0.049},{"s":"AG","x":4.5,"y":0.047},{"s":"AG","x":4.75,"y":0.046},{"s":"AG","x":5,"y":0.046},{"s":"AG","x":5.25,"y":0.048},{"s":"AG","x":5.45,"y":0.047},{"s":"AG","x":5.6,"y":0.043},{"s":"AG","x":5.73,"y":0.03},{"s":"AG","x":5.85,"y":0.042},{"s":"AG","x":6,"y":0.045},{"s":"AG","x":6.2,"y":0.075},{"s":"AG","x":6.3,"y":0.06},{"s":"AG","x":6.5,"y":0.05},{"s":"AG","x":6.7,"y":0.048},{"s":"AG","x":7.1,"y":0.047},{"s":"AG","x":7.5,"y":0.046},{"s":"AG","x":8,"y":0.044},{"s":"AG","x":8.5,"y":0.045},{"s":"AG","x":9,"y":0.05},{"s":"AG","x":9.4,"y":0.048},{"s":"AG","x":9.8,"y":0.046},{"s":"AG","x":10.3,"y":0.05},{"s":"AG","x":10.8,"y":0.053},{"s":"AG","x":11.3,"y":0.05},{"s":"AG","x":11.8,"y":0.047},{"s":"AG","x":12.3,"y":0.044},{"s":"AG","x":12.8,"y":0.04},{"s":"AG","x":13.4,"y":0.036},{"s":"AG","x":14,"y":0.032},
{"s":"AH","x":3,"y":0.03},{"s":"AH","x":3.25,"y":0.038},{"s":"AH","x":3.4,"y":0.028},{"s":"AH","x":3.5,"y":0.042},{"s":"AH","x":3.75,"y":0.044},{"s":"AH","x":4,"y":0.045},{"s":"AH","x":4.25,"y":0.044},{"s":"AH","x":4.5,"y":0.043},{"s":"AH","x":4.75,"y":0.042},{"s":"AH","x":5,"y":0.041},{"s":"AH","x":5.25,"y":0.042},{"s":"AH","x":5.45,"y":0.041},{"s":"AH","x":5.6,"y":0.036},{"s":"AH","x":5.73,"y":0.03},{"s":"AH","x":5.85,"y":0.035},{"s":"AH","x":6,"y":0.038},{"s":"AH","x":6.3,"y":0.039},{"s":"AH","x":6.7,"y":0.037},{"s":"AH","x":7.1,"y":0.036},{"s":"AH","x":7.5,"y":0.035},{"s":"AH","x":8,"y":0.034},{"s":"AH","x":8.5,"y":0.033},{"s":"AH","x":9,"y":0.03},{"s":"AH","x":9.4,"y":0.032},{"s":"AH","x":9.8,"y":0.036},{"s":"AH","x":10.3,"y":0.04},{"s":"AH","x":10.8,"y":0.042},{"s":"AH","x":11.3,"y":0.04},{"s":"AH","x":11.8,"y":0.038},{"s":"AH","x":12.3,"y":0.035},{"s":"AH","x":12.8,"y":0.033},{"s":"AH","x":13.4,"y":0.03},{"s":"AH","x":14,"y":0.028}
],
"arrows":[
{"a":"s1","x":4.0,"y":0.043},{"a":"s1","x":5.0,"y":0.231},
{"a":"h1","x":4.686,"y":0.2231},{"a":"h1","x":5.013,"y":0.2336},{"a":"h1","x":5.176,"y":0.2208},
{"a":"s2","x":11.09,"y":0.0392},{"a":"s2","x":11.5,"y":0.115},
{"a":"h2","x":11.2,"y":0.1065},{"a":"h2","x":11.51,"y":0.1171},{"a":"h2","x":11.68,"y":0.1045}
]
},
"layer":[
{"data":{"name":"spectra"},
 "mark":{"type":"line","strokeWidth":1,"opacity":0.8},
 "encoding":{
  "x":{"field":"x","type":"quantitative","scale":{"domain":[3,14],"nice":false,"zero":false},
       "axis":{"orient":"bottom","values":[4,6,8,10,12,14],"labelFontSize":31,"labelPadding":16,"labelFlush":false,"title":"Wavelenth (µm)","titleFontSize":34,"titleX":280,"titleY":72,"titleBaseline":"alphabetic","titleAlign":"center"}},
  "y":{"field":"y","type":"quantitative","scale":{"domain":[0,0.25],"nice":false,"zero":false},
       "axis":{"orient":"left","values":[0,0.05,0.1,0.15,0.2,0.25],"format":".2~f","labelFontSize":31,"labelPadding":13,"labelFlush":false,"title":"Leaf reflectance","titleFontSize":33,"titleX":-78,"titleY":200,"titleAngle":-90,"titleBaseline":"alphabetic","titleAlign":"center"}},
  "color":{"field":"s","type":"nominal","legend":null,
    "scale":{"domain":["A","B","C","D","E","F","G","H","I","J","K","L","M","N","O","P","Q","R","S","T","U","V","W","X","Y","Z","AA","AB","AC","AD","AE","AF","AG","AH"],
             "range":["#c000c0","#008000","#0000ff","#3030ff","#c000c0","#008000","#404040","#ff0000","#0000ff","#008000","#00c0c0","#c0c000","#404040","#008000","#008000","#00c0c0","#c0c000","#c0c000","#00c0c0","#0000ff","#ff0000","#c000c0","#0000ff","#0000ff","#008000","#ff0000","#c0c000","#00c0c0","#404040","#ff0000","#008000","#0000ff","#c000c0","#c0c000"]}}
 }},
{"data":{"name":"arrows"},
 "mark":{"type":"line","color":"#ff0000","strokeWidth":5.5,"strokeJoin":"miter","strokeCap":"butt"},
 "encoding":{
  "x":{"field":"x","type":"quantitative","scale":{"domain":[3,14],"nice":false,"zero":false},
       "axis":{"orient":"top","values":[4,6,8,10,12,14],"labels":false,"title":null}},
  "y":{"field":"y","type":"quantitative","scale":{"domain":[0,0.25],"nice":false,"zero":false},
       "axis":{"orient":"right","values":[0,0.05,0.1,0.15,0.2,0.25],"labels":false,"title":null}},
  "detail":{"field":"a","type":"nominal"}
 }},
{"data":{"values":[{"t":"Gerber et al. 2012","x":13.76,"y":0.2314}]},
 "mark":{"type":"text","font":"Lato","fontWeight":"bold","fontSize":33,"align":"right","baseline":"alphabetic","color":"#000000"},
 "encoding":{
  "x":{"field":"x","type":"quantitative","scale":{"domain":[3,14],"nice":false,"zero":false},"axis":null},
  "y":{"field":"y","type":"quantitative","scale":{"domain":[0,0.25],"nice":false,"zero":false},"axis":null},
  "text":{"field":"t","type":"nominal"}
 }},
{"data":{"values":[{"t":"impact of leaf drying","x":6.41,"y":0.1565}]},
 "mark":{"type":"text","font":"Lato","fontWeight":"bold","fontSize":34,"align":"left","baseline":"alphabetic","color":"#ff0000"},
 "encoding":{
  "x":{"field":"x","type":"quantitative","scale":{"domain":[3,14],"nice":false,"zero":false},"axis":null},
  "y":{"field":"y","type":"quantitative","scale":{"domain":[0,0.25],"nice":false,"zero":false},"axis":null},
  "text":{"field":"t","type":"nominal"}
 }}
],
"resolve":{"scale":{"x":"independent","y":"independent"},"axis":{"x":"independent","y":"independent"}}
}
